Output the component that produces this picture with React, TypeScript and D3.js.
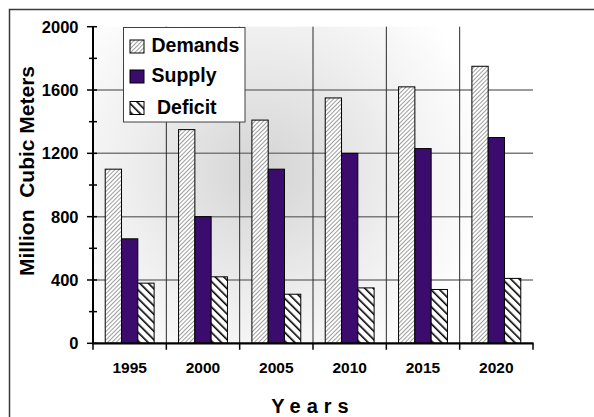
import React from "react";
import * as d3 from "d3";

const years = ["1995", "2000", "2005", "2010", "2015", "2020"];
const seriesNames = ["Demands", "Supply", "Deficit"];
const demands = [1100, 1350, 1410, 1550, 1620, 1750];
const supply = [660, 800, 1100, 1200, 1230, 1300];
const deficit = [380, 420, 310, 350, 340, 410];
const majorTicks = [0, 400, 800, 1200, 1600, 2000];
const minorTicks = [200, 600, 1000, 1400, 1800];

const W = 594;
const H = 417;
const FONT = "'Liberation Sans', Arial, Helvetica, sans-serif";

export default function App() {
  const x = d3.scaleBand<string>().domain(years).range([93, 533]).paddingInner(0).paddingOuter(0);
  const xs = d3.scaleBand<string>().domain(seriesNames).range([0, x.bandwidth()]).paddingInner(0).paddingOuter(0.75);
  const y = d3.scaleLinear().domain([0, 2000]).range([343.3, 26.7]);
  const values: Record<string, number[]> = { Demands: demands, Supply: supply, Deficit: deficit };
  const fills: Record<string, string> = {
    Demands: "url(#hatchDemand)",
    Supply: "#3b0b6e",
    Deficit: "url(#hatchDeficit)",
  };
  const bounds = years.map((yr) => x(yr) as number).slice(1);
  const legendRows = [
    { name: "Demands", label: "Demands", base: 51.7, sw: 40, tx: 151.5 },
    { name: "Supply", label: "Supply", base: 81.7, sw: 70, tx: 151.5 },
    { name: "Deficit", label: "Deficit", base: 114.3, sw: 101.5, tx: 157 },
  ];
  return (
    <svg width={W} height={H} style={{ position: "absolute", left: 0, top: 0, display: "block" }} fontFamily={FONT}>
      <defs>
        <radialGradient id="bg" gradientUnits="userSpaceOnUse" cx={262} cy={172} r={230}>
          <stop offset="0" stopColor="#d4d4d4" />
          <stop offset="0.55" stopColor="#ededed" />
          <stop offset="1" stopColor="#ffffff" />
        </radialGradient>
        <pattern id="hatchDemand" patternUnits="userSpaceOnUse" width={3} height={3} patternTransform="rotate(45)">
          <rect width={3} height={3} fill="#ffffff" />
          <line x1={0} y1={0} x2={0} y2={3} stroke="#5a5a5a" strokeWidth={1.2} />
        </pattern>
        <pattern id="hatchDeficit" patternUnits="userSpaceOnUse" width={6} height={6} patternTransform="rotate(-45)">
          <rect width={6} height={6} fill="#ffffff" />
          <line x1={0} y1={0} x2={0} y2={6} stroke="#000000" strokeWidth={3.2} />
        </pattern>
      </defs>
      <rect x={0} y={0} width={W} height={H} fill="#ffffff" />
      <rect x={9.5} y={9.5} width={700} height={600} fill="none" stroke="#3a3a3a" strokeWidth={1.5} />
      <rect x={93} y={26.7} width={440} height={316.6} fill="url(#bg)" />
      {majorTicks.filter((t) => t > 0 && t < 2000).map((t) => (
        <line key={"h" + t} x1={93} x2={533} y1={y(t)} y2={y(t)} stroke="#7a7a7a" strokeWidth={1.5} />
      ))}
      {bounds.map((b) => (
        <line key={"v" + b} x1={b} x2={b} y1={y(2000)} y2={y(0)} stroke="#2a2a2a" strokeWidth={1} />
      ))}
      {years.map((yr, i) => (
        <g key={yr} transform={`translate(${x(yr)},0)`}>
          {seriesNames.map((s) => (
            <rect
              key={s}
              x={xs(s)}
              y={y(values[s][i])}
              width={xs.bandwidth()}
              height={y(0) - y(values[s][i])}
              fill={fills[s]}
              stroke="#000"
              strokeWidth={1}
            />
          ))}
        </g>
      ))}
      <line x1={93} x2={93} y1={y(2000)} y2={y(0) + 1} stroke="#000" strokeWidth={2} />
      {majorTicks.map((t) => (
        <g key={"mt" + t}>
          <line x1={87} x2={97} y1={y(t)} y2={y(t)} stroke="#000" strokeWidth={1.5} />
          <text x={78.5} y={y(t)} dy="0.36em" textAnchor="end" fontSize={16.5} fontWeight="bold" fill="#000">
            {t}
          </text>
        </g>
      ))}
      {minorTicks.map((t) => (
        <line key={"mn" + t} x1={89} x2={97} y1={y(t)} y2={y(t)} stroke="#000" strokeWidth={1.5} />
      ))}
      <line x1={92} x2={533.5} y1={y(0)} y2={y(0)} stroke="#000" strokeWidth={2.2} />
      {[93, ...bounds, 533].map((b) => (
        <line key={"xt" + b} x1={b} x2={b} y1={y(0)} y2={y(0) + 6.5} stroke="#000" strokeWidth={1.5} />
      ))}
      {years.map((yr) => (
        <text key={"xl" + yr} x={(x(yr) as number) + x.bandwidth() / 2} y={373.3} textAnchor="middle" fontSize={15.5} fontWeight="bold" fill="#000">
          {yr}
        </text>
      ))}
      <text x={313} y={413} textAnchor="middle" fontSize={20} fontWeight="bold" letterSpacing={6} fill="#000">
        Years
      </text>
      <text
        transform="translate(34,171) rotate(-90)"
        textAnchor="middle"
        fontSize={21}
        fontWeight="bold"
        fill="#000"
        style={{ whiteSpace: "pre" }}
      >
        {"Million  Cubic Meters"}
      </text>
      <rect x={123.5} y={27.5} width={121.5} height={94.5} fill="#ffffff" stroke="#404040" strokeWidth={1} />
      {legendRows.map((r) => (
        <g key={"lg" + r.name}>
          <rect x={130} y={r.sw} width={14} height={13} fill={fills[r.name]} stroke="#000" strokeWidth={1} />
          <text x={r.tx} y={r.base} fontSize={19.5} fontWeight="bold" fill="#000">
            {r.label}
          </text>
        </g>
      ))}
    </svg>
  );
}
